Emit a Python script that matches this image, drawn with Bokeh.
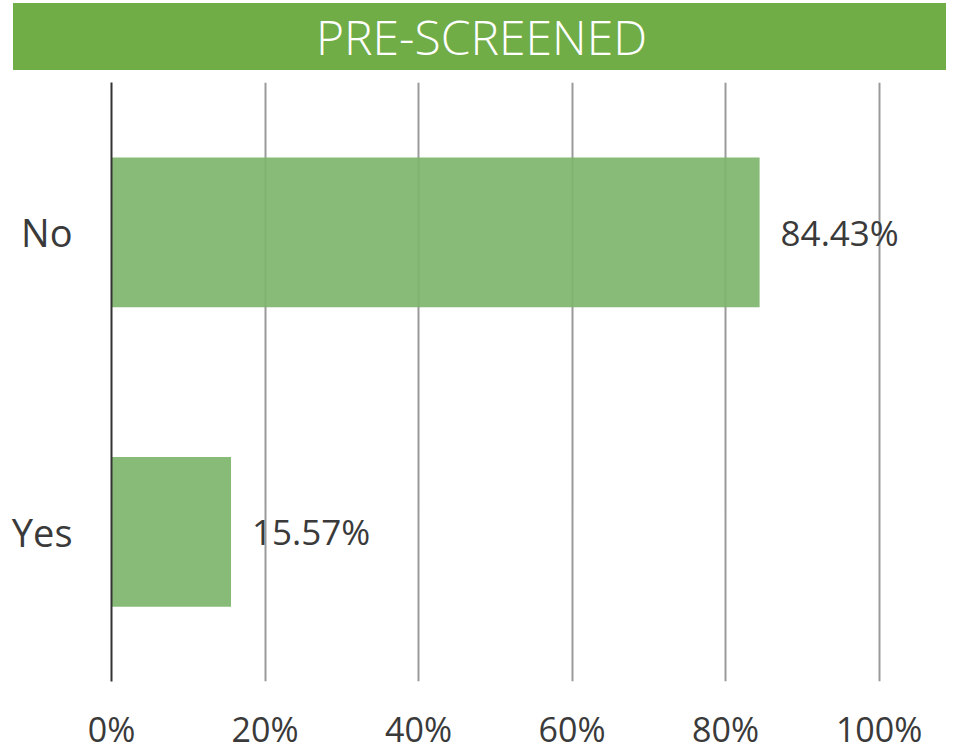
from bokeh.plotting import figure
from bokeh.layouts import column
from bokeh.models import ColumnDataSource, FactorRange, Range1d, FixedTicker, PrintfTickFormatter, Div
from bokeh.core.properties import value
from bokeh.embed import file_html
from bokeh.resources import INLINE

title_text = "PRE-SCREENED"
categories = ["Yes", "No"]
values = [15.57, 84.43]
x_ticks = [0, 20, 40, 60, 80, 100]

FONT = "Open Sans"
TEXT_COLOR = "#3a3a3a"
GREEN = "#70ad47"

# Banner
banner = Div(text=title_text, width=933, height=67, margin=(3, 0, 0, 13),
             styles={"background-color": GREEN, "color": "white",
                     "font-family": "'Open Sans', sans-serif", "font-size": "48px",
                     "font-weight": "300", "display": "flex",
                     "align-items": "center", "justify-content": "center",
                     "padding-left": "4px", "box-sizing": "border-box",
                     "line-height": "67px"})

# Main chart
src = ColumnDataSource(dict(cat=categories, val=values,
                            lab=[f"{v:.2f}%" for v in values]))

p = figure(width=961, height=684, y_range=FactorRange(*categories, range_padding=0),
           x_range=Range1d(0, 105), output_backend="svg", toolbar_location=None,
           min_border_left=111, min_border_right=44, min_border_top=12, min_border_bottom=66)
p.outline_line_color = None
p.background_fill_color = "white"
p.border_fill_color = "white"

p.xaxis.ticker = FixedTicker(ticks=x_ticks)
p.xaxis.formatter = PrintfTickFormatter(format="%d%%")
p.xaxis.axis_line_color = None
p.xaxis.major_tick_line_color = None
p.xaxis.minor_tick_line_color = None
p.xaxis.major_label_standoff = 18
p.xaxis.major_label_text_font = FONT
p.xaxis.major_label_text_font_size = "34px"
p.xaxis.major_label_text_color = TEXT_COLOR

p.yaxis.axis_line_color = "#333333"
p.yaxis.axis_line_width = 2
p.yaxis.major_tick_line_color = None
p.yaxis.minor_tick_line_color = None
p.yaxis.major_label_standoff = 33
p.yaxis.major_label_text_font = FONT
p.yaxis.major_label_text_font_size = "38px"
p.yaxis.major_label_text_color = TEXT_COLOR

p.ygrid.grid_line_color = None
p.xgrid.ticker = FixedTicker(ticks=x_ticks[1:])
p.xgrid.grid_line_color = "#9a9a9a"
p.xgrid.grid_line_width = 2

p.hbar(y="cat", right="val", left=0, height=0.5, source=src,
       fill_color="#7db56b", fill_alpha=0.92, line_color=None)

p.text(x="val", y="cat", text="lab", source=src, x_offset=21,
       text_font=value(FONT), text_font_size="35px", text_color=TEXT_COLOR,
       text_align="left", text_baseline="middle")

layout = column(banner, p, spacing=0)
open("out.html", "w").write(file_html(layout, INLINE))
